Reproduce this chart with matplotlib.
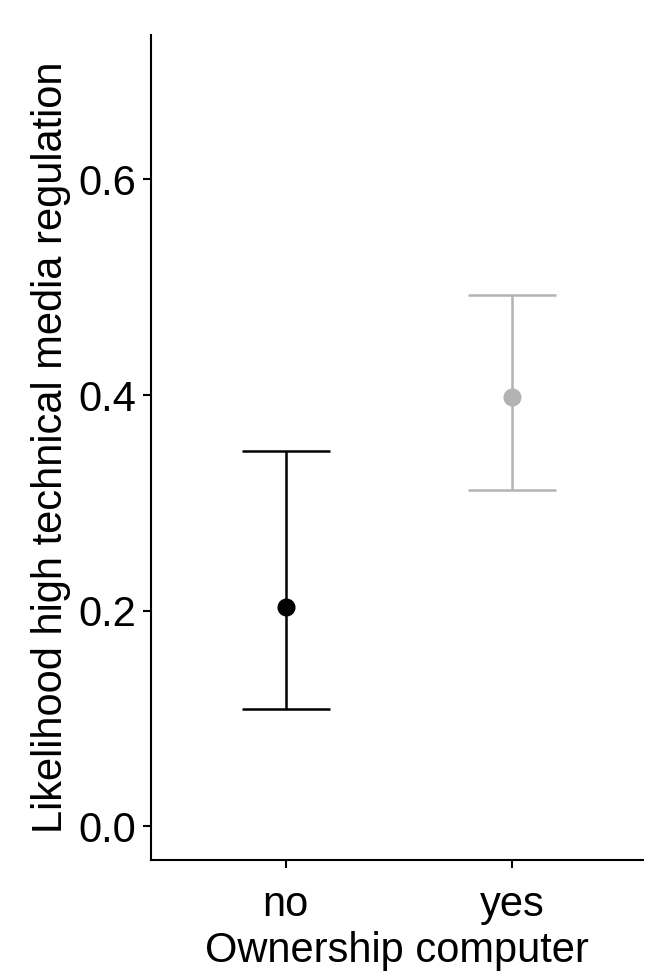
import matplotlib.pyplot as plt

# values
groups = ["no", "yes"]
estimate = [0.203, 0.398]
lower = [0.109, 0.312]
upper = [0.348, 0.493]
colors = ["black", "#b3b3b3"]

plt.rcParams["font.family"] = ["Liberation Sans", "DejaVu Sans"]

fig = plt.figure(figsize=(6.61, 9.72), dpi=100)
ax = fig.add_axes([0.229, 0.115, 0.744, 0.849])

xpos = [1, 2]
for x, est, lo, hi, c in zip(xpos, estimate, lower, upper, colors):
    ax.errorbar(x, est, yerr=[[est - lo], [hi - est]], fmt="o", color=c,
                ecolor=c, elinewidth=1.8, capsize=32, capthick=1.8,
                markersize=12, zorder=3)

ax.set_xlim(0.407, 2.58)
ax.set_ylim(-0.0316, 0.734)
ax.set_xticks(xpos)
ax.set_xticklabels(groups)
ax.set_yticks([0.0, 0.2, 0.4, 0.6])
ax.set_yticklabels(["0.0", "0.2", "0.4", "0.6"])

#classic look: only left and bottom axis lines
ax.spines["top"].set_visible(False)
ax.spines["right"].set_visible(False)
ax.spines["left"].set_linewidth(1.5)
ax.spines["bottom"].set_linewidth(1.5)
ax.tick_params(axis="both", length=6, width=1.5, labelsize=30,
               colors="black")
ax.tick_params(axis="x", pad=12)
ax.tick_params(axis="y", pad=5)

ax.set_xlabel("Ownership computer", fontsize=30, labelpad=4)
ax.set_ylabel("Likelihood high technical media regulation", fontsize=30,
              labelpad=5.5)

fig.savefig("out.png", dpi=100)
